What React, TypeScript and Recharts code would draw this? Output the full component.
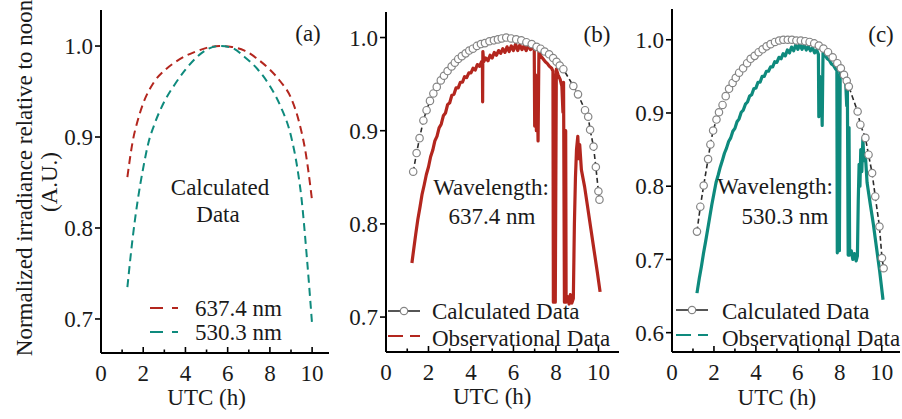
import { LineChart, Line, XAxis, YAxis } from "recharts";

const FONT = '"Liberation Serif", "Times New Roman", serif';
const INK = "#1a1a1a";
const RED = "#B3261E";
const TEAL = "#0E8A7D";
const CALC_LINE = "#2b2b2b";
const CIRCLE = "#858585";

// panel (a): calculated curves
const aRedX = [1.25, 1.5, 1.75, 2.0, 2.5, 3.0, 3.5, 4.0, 4.5, 5.0, 5.6, 6.2, 6.8, 7.4, 8.0, 8.5, 9.0, 9.4, 9.7, 10.0];
const aRedY = [0.856, 0.895, 0.919, 0.937, 0.96, 0.973, 0.982, 0.989, 0.994, 0.998, 1.0, 0.999, 0.995, 0.986, 0.974, 0.961, 0.943, 0.915, 0.882, 0.83];
const aTealX = [1.25, 1.5, 1.75, 2.0, 2.25, 2.5, 3.0, 3.5, 4.0, 4.5, 5.0, 5.6, 6.2, 6.8, 7.4, 8.0, 8.5, 9.0, 9.3, 9.5, 9.75, 10.0];
const aTealY = [0.735, 0.789, 0.832, 0.866, 0.894, 0.912, 0.939, 0.958, 0.974, 0.987, 0.996, 1.0, 0.998, 0.988, 0.975, 0.956, 0.934, 0.901, 0.866, 0.832, 0.768, 0.694];

// panel (b): 637.4 nm
const bCalcX = [1.28, 1.44, 1.58, 1.76, 1.91, 2.07, 2.23, 2.39, 2.58, 2.73, 2.9, 3.09, 3.24, 3.4, 3.57, 3.75, 3.92, 4.09, 4.28, 4.47, 4.66, 4.87, 5.08, 5.27, 5.45, 5.66, 5.89, 6.13, 6.37, 6.61, 6.86, 7.09, 7.28, 7.47, 7.68, 7.87, 8.03, 8.18, 8.35, 8.82, 9.04, 9.37, 9.52, 9.61, 9.77, 9.88, 10.0, 10.05];
const bCalcY = [0.856, 0.876, 0.892, 0.911, 0.922, 0.932, 0.94, 0.947, 0.954, 0.959, 0.964, 0.969, 0.973, 0.977, 0.98, 0.983, 0.986, 0.988, 0.991, 0.993, 0.994, 0.996, 0.997, 0.998, 0.999, 1.0, 0.999, 0.998, 0.997, 0.995, 0.993, 0.99, 0.988, 0.985, 0.982, 0.978, 0.974, 0.97, 0.966, 0.948, 0.939, 0.922, 0.915, 0.901, 0.883, 0.861, 0.835, 0.826];
const bObsX = [1.22, 1.3, 1.4, 1.5, 1.6, 1.7, 1.8, 1.9, 2.0, 2.1, 2.2, 2.3, 2.4, 2.5, 2.6, 2.7, 2.8, 2.9, 3.0, 3.1, 3.2, 3.3, 3.4, 3.5, 3.6, 3.7, 3.8, 3.9, 4.0, 4.1, 4.2, 4.3, 4.4, 4.5, 4.54, 4.55, 4.56, 4.6, 4.7, 4.8, 4.9, 5.0, 5.1, 5.2, 5.3, 5.4, 5.5, 5.6, 5.7, 5.8, 5.9, 6.0, 6.1, 6.2, 6.3, 6.4, 6.5, 6.6, 6.7, 6.8, 6.9, 6.98, 7.0, 7.04, 7.08, 7.12, 7.16, 7.2, 7.3, 7.4, 7.5, 7.6, 7.7, 7.8, 7.86, 7.88, 7.93, 7.97, 8.02, 8.1, 8.2, 8.28, 8.33, 8.36, 8.4, 8.46, 8.48, 8.55, 8.62, 8.68, 8.75, 8.82, 8.87, 8.92, 8.97, 9.03, 9.08, 9.12, 9.2, 9.35, 9.5, 9.65, 9.8, 9.95, 10.08];
const bObsY = [0.758, 0.772, 0.789, 0.805, 0.818, 0.832, 0.842, 0.853, 0.861, 0.872, 0.879, 0.889, 0.894, 0.903, 0.907, 0.916, 0.919, 0.928, 0.93, 0.938, 0.939, 0.946, 0.946, 0.952, 0.952, 0.958, 0.957, 0.962, 0.962, 0.967, 0.965, 0.971, 0.969, 0.974, 0.972, 0.931, 0.985, 0.974, 0.978, 0.975, 0.981, 0.978, 0.984, 0.981, 0.986, 0.983, 0.988, 0.984, 0.99, 0.985, 0.991, 0.986, 0.993, 0.986, 0.992, 0.987, 0.991, 0.986, 0.992, 0.987, 0.991, 0.986, 0.905, 0.96, 0.9, 0.94, 0.889, 0.986, 0.98, 0.977, 0.974, 0.972, 0.969, 0.967, 0.964, 0.716, 0.96, 0.716, 0.966, 0.96, 0.955, 0.948, 0.92, 0.952, 0.716, 0.9, 0.716, 0.722, 0.714, 0.724, 0.715, 0.72, 0.8, 0.85, 0.88, 0.894, 0.87, 0.885, 0.858, 0.84, 0.817, 0.794, 0.771, 0.748, 0.727];

// panel (c): 530.3 nm
const cCalcX = [1.19, 1.35, 1.51, 1.72, 1.83, 1.96, 2.12, 2.24, 2.41, 2.56, 2.72, 2.89, 3.04, 3.2, 3.39, 3.58, 3.75, 3.94, 4.13, 4.32, 4.51, 4.7, 4.91, 5.11, 5.31, 5.52, 5.72, 5.93, 6.14, 6.35, 6.56, 6.78, 7.0, 7.22, 7.44, 7.66, 7.88, 8.05, 8.2, 8.33, 8.43, 8.85, 8.98, 9.22, 9.37, 9.54, 9.69, 9.89, 10.01, 10.09];
const cCalcY = [0.738, 0.772, 0.801, 0.837, 0.857, 0.876, 0.891, 0.901, 0.911, 0.923, 0.933, 0.941, 0.948, 0.955, 0.961, 0.968, 0.974, 0.978, 0.983, 0.987, 0.991, 0.994, 0.997, 0.999, 1.0, 1.0, 1.0, 0.999, 0.999, 0.998, 0.997, 0.995, 0.992, 0.988, 0.983, 0.976, 0.968, 0.961, 0.952, 0.944, 0.936, 0.902, 0.884, 0.866, 0.843, 0.818, 0.786, 0.745, 0.702, 0.688];
const cObsX = [1.19, 1.3, 1.4, 1.5, 1.6, 1.7, 1.8, 1.9, 2.0, 2.1, 2.2, 2.3, 2.4, 2.5, 2.6, 2.7, 2.8, 2.9, 3.0, 3.1, 3.2, 3.3, 3.4, 3.5, 3.6, 3.7, 3.8, 3.9, 4.0, 4.1, 4.2, 4.3, 4.4, 4.5, 4.6, 4.7, 4.8, 4.9, 5.0, 5.1, 5.2, 5.3, 5.4, 5.5, 5.6, 5.7, 5.8, 5.9, 6.0, 6.1, 6.2, 6.3, 6.4, 6.5, 6.6, 6.7, 6.8, 6.9, 6.98, 7.0, 7.04, 7.08, 7.12, 7.16, 7.2, 7.3, 7.4, 7.5, 7.6, 7.7, 7.8, 7.86, 7.88, 7.94, 7.98, 8.02, 8.1, 8.2, 8.28, 8.33, 8.36, 8.4, 8.44, 8.47, 8.55, 8.62, 8.7, 8.78, 8.84, 8.88, 8.92, 8.96, 9.0, 9.05, 9.1, 9.15, 9.22, 9.3, 9.45, 9.6, 9.75, 9.9, 10.06];
const cObsY = [0.654, 0.674, 0.69, 0.708, 0.724, 0.741, 0.758, 0.775, 0.79, 0.805, 0.815, 0.826, 0.835, 0.845, 0.852, 0.861, 0.866, 0.875, 0.879, 0.888, 0.892, 0.901, 0.904, 0.912, 0.915, 0.923, 0.925, 0.933, 0.934, 0.942, 0.942, 0.95, 0.95, 0.957, 0.957, 0.963, 0.963, 0.97, 0.969, 0.976, 0.974, 0.981, 0.978, 0.986, 0.982, 0.99, 0.985, 0.993, 0.987, 0.994, 0.987, 0.993, 0.986, 0.991, 0.985, 0.989, 0.982, 0.986, 0.98, 0.895, 0.95, 0.9, 0.935, 0.883, 0.982, 0.979, 0.974, 0.972, 0.967, 0.965, 0.96, 0.958, 0.709, 0.95, 0.712, 0.957, 0.952, 0.947, 0.942, 0.91, 0.94, 0.706, 0.88, 0.706, 0.712, 0.7, 0.708, 0.698, 0.705, 0.78, 0.83, 0.8, 0.85, 0.82, 0.865, 0.835, 0.842, 0.805, 0.776, 0.748, 0.716, 0.684, 0.645];

const xTicks = [0, 1, 2, 3, 4, 5, 6, 7, 8, 9, 10];
const yTicksAB = [0.7, 0.8, 0.9, 1.0];
const yTicksC = [0.6, 0.7, 0.8, 0.9, 1.0];

const zip = (xs: number[], ys: number[]) => xs.map((x, i) => ({ x, y: ys[i] }));

type Layout = {
  left: number;
  width: number;
  plotLeft: number;
  plotRight: number;
  top: number;
  bottom: number;
  xMax: number;
  yMin: number;
  yMax: number;
  yTicks: number[];
};

const layA: Layout = { left: 0, width: 340, plotLeft: 101, plotRight: 329, top: 10, bottom: 353, xMax: 10.8, yMin: 0.6626, yMax: 1.0396, yTicks: yTicksAB };
const layB: Layout = { left: 340, width: 285, plotLeft: 386, plotRight: 619, top: 12, bottom: 352, xMax: 10.97, yMin: 0.6625, yMax: 1.0274, yTicks: yTicksAB };
const layC: Layout = { left: 625, width: 277, plotLeft: 672, plotRight: 900, top: 9, bottom: 352, xMax: 10.87, yMin: 0.5736, yMax: 1.042, yTicks: yTicksC };

const XTick = (props: any) => {
  const { x, y, payload } = props;
  const v = payload.value;
  const major = v % 2 === 0;
  return (
    <g>
      <line x1={x} x2={x} y1={y} y2={y - (major ? 6 : 3.5)} stroke="#000" strokeWidth={1.6} />
      {major && (
        <text x={x} y={y + 28} textAnchor="middle" fontSize={23} fontFamily={FONT} fill={INK}>
          {v}
        </text>
      )}
    </g>
  );
};

function axes(l: Layout) {
  return [
    <XAxis
      key="xb"
      dataKey="x"
      type="number"
      domain={[0, l.xMax]}
      allowDataOverflow
      ticks={xTicks}
      interval={0}
      height={419 - l.bottom}
      tickSize={0}
      tickMargin={0}
      tickLine={false}
      tick={XTick}
      axisLine={{ stroke: "#000", strokeWidth: 2 }}
    />,
    <XAxis key="xt" xAxisId="top" orientation="top" type="number" domain={[0, l.xMax]} height={0} tick={false} tickLine={false} axisLine={{ stroke: "#000", strokeWidth: 2 }} />,
    <YAxis
      key="yl"
      type="number"
      domain={[l.yMin, l.yMax]}
      allowDataOverflow
      ticks={l.yTicks}
      interval={0}
      width={l.plotLeft - l.left}
      tickSize={6}
      tickMargin={2}
      tickFormatter={(v: number) => v.toFixed(1)}
      tick={{ fontSize: 23, fontFamily: FONT, fill: INK }}
      tickLine={{ stroke: "#000", strokeWidth: 1.6 }}
      axisLine={{ stroke: "#000", strokeWidth: 2 }}
    />,
    <YAxis key="yr" yAxisId="right" orientation="right" type="number" domain={[l.yMin, l.yMax]} width={0} tick={false} tickLine={false} axisLine={{ stroke: "#000", strokeWidth: 2 }} />,
  ];
}

function Panel({ l, children }: { l: Layout; children: React.ReactNode }) {
  return (
    <div style={{ position: "absolute", left: l.left, top: 0 }}>
      <LineChart width={l.width} height={419} margin={{ top: l.top, right: l.left + l.width - l.plotRight, bottom: 0, left: 0 }}>
        {axes(l)}
        {children}
      </LineChart>
    </div>
  );
}

// hollow markers; the line's dash pattern must not leak onto the circles
const calcDot = { r: 3.7, stroke: CIRCLE, strokeWidth: 1.2, fill: "#fff", strokeDasharray: "none" };

const utcX = (l: Layout) => l.plotLeft + (5 / l.xMax) * (l.plotRight - l.plotLeft);

export default function App() {
  const txt = { fontFamily: FONT, fontSize: 23, fill: INK } as const;
  return (
    <div style={{ position: "absolute", left: 0, top: 0, width: 902, height: 419, background: "#fff", overflow: "hidden" }}>
      <Panel l={layA}>
        <Line data={zip(aRedX, aRedY)} dataKey="y" type="monotone" stroke={RED} strokeWidth={2} strokeDasharray="8 5" dot={false} isAnimationActive={false} />
        <Line data={zip(aTealX, aTealY)} dataKey="y" type="monotone" stroke={TEAL} strokeWidth={2} strokeDasharray="8 5" dot={false} isAnimationActive={false} />
      </Panel>
      <Panel l={layB}>
        <Line data={zip(bCalcX, bCalcY)} dataKey="y" type="linear" stroke={CALC_LINE} strokeWidth={1.6} strokeDasharray="5 3" dot={calcDot} isAnimationActive={false} />
        <Line data={zip(bObsX, bObsY)} dataKey="y" type="linear" stroke={RED} strokeWidth={3.2} strokeLinejoin="round" dot={false} isAnimationActive={false} />
      </Panel>
      <Panel l={layC}>
        <Line data={zip(cCalcX, cCalcY)} dataKey="y" type="linear" stroke={CALC_LINE} strokeWidth={1.6} strokeDasharray="5 3" dot={calcDot} isAnimationActive={false} />
        <Line data={zip(cObsX, cObsY)} dataKey="y" type="linear" stroke={TEAL} strokeWidth={3.2} strokeLinejoin="round" dot={false} isAnimationActive={false} />
      </Panel>

      <svg width={902} height={419} style={{ position: "absolute", left: 0, top: 0, pointerEvents: "none" }}>
        <text {...txt} transform="translate(32,178) rotate(-90)" textAnchor="middle">Normalized irradiance relative to noon</text>
        <text {...txt} transform="translate(57,182) rotate(-90)" textAnchor="middle">(A.U.)</text>

        <text {...txt} x={308} y={41} textAnchor="middle">(a)</text>
        <text {...txt} x={220} y={195} textAnchor="middle">Calculated</text>
        <text {...txt} x={218} y={222} textAnchor="middle">Data</text>
        <line x1={150} x2={178} y1={308} y2={308} stroke={RED} strokeWidth={2} strokeDasharray="13 9" />
        <line x1={150} x2={178} y1={332} y2={332} stroke={TEAL} strokeWidth={2} strokeDasharray="13 9" />
        <text {...txt} x={195} y={316}>637.4 nm</text>
        <text {...txt} x={195} y={340}>530.3 nm</text>
        <text {...txt} x={utcX(layA)} y={405} textAnchor="middle">UTC (h)</text>

        <text {...txt} x={597} y={42} textAnchor="middle">(b)</text>
        <text {...txt} x={491} y={195} textAnchor="middle">Wavelength:</text>
        <text {...txt} x={492} y={224} textAnchor="middle">637.4 nm</text>
        <line x1={388} x2={420} y1={311} y2={311} stroke={CALC_LINE} strokeWidth={1.6} />
        <circle cx={404} cy={311} r={3.7} stroke={CIRCLE} strokeWidth={1.2} fill="#fff" />
        <line x1={388} x2={420} y1={336} y2={336} stroke={RED} strokeWidth={2.2} strokeDasharray="15 7" />
        <text {...txt} x={432} y={319}>Calculated Data</text>
        <text {...txt} x={432} y={346}>Observational Data</text>
        <text {...txt} x={utcX(layB)} y={404} textAnchor="middle">UTC (h)</text>

        <text {...txt} x={881} y={42} textAnchor="middle">(c)</text>
        <text {...txt} x={775} y={194} textAnchor="middle">Wavelength:</text>
        <text {...txt} x={785} y={224} textAnchor="middle">530.3 nm</text>
        <line x1={676} x2={708} y1={310} y2={310} stroke={CALC_LINE} strokeWidth={1.6} />
        <circle cx={692} cy={310} r={3.7} stroke={CIRCLE} strokeWidth={1.2} fill="#fff" />
        <line x1={676} x2={708} y1={335} y2={335} stroke={TEAL} strokeWidth={2.2} strokeDasharray="15 7" />
        <text {...txt} x={722} y={319}>Calculated Data</text>
        <text {...txt} x={722} y={346}>Observational Data</text>
        <text {...txt} x={utcX(layC)} y={405} textAnchor="middle">UTC (h)</text>
      </svg>
    </div>
  );
}
